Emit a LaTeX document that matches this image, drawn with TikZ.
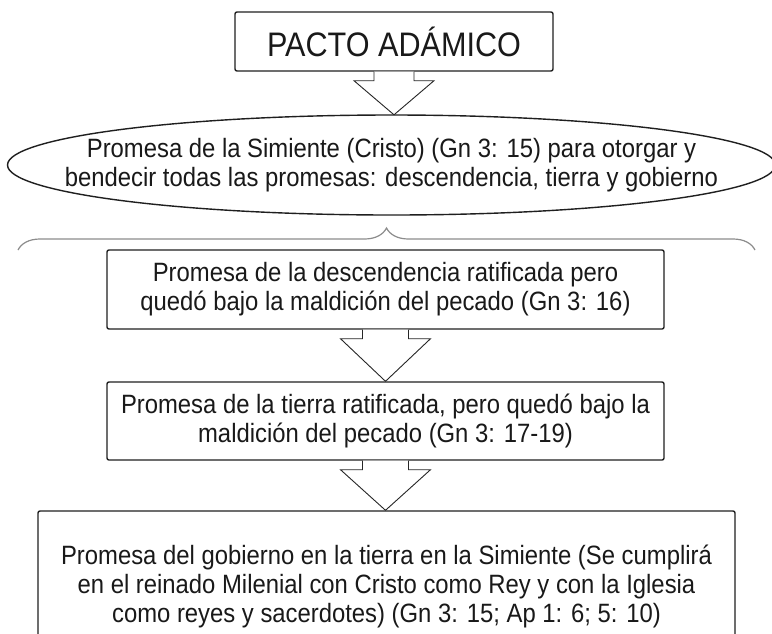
\documentclass[tikz,border=0pt]{standalone}
\usepackage{fontspec}
\setmainfont{Liberation Sans}
\newfontfamily\bodyfont{Liberation Sans}[FakeStretch=0.9]
\usetikzlibrary{shapes.geometric,calc,decorations.pathreplacing}
\tikzset{
  boxnode/.style={draw=black!88, line width=1.4pt, rounded corners=2pt, align=center,
    inner sep=0pt, text=black!90, font=\bodyfont\fontsize{26.5}{29}\selectfont},
  txtnode/.style={align=center, inner sep=0pt, text=black!90, font=\bodyfont\fontsize{26.5}{29}\selectfont},
  blockarrow/.style={draw=black!85, line width=0.9pt, fill=white, line join=miter},
  bracestyle/.style={draw=black!45, line width=1.2pt, decorate,
    decoration={brace, amplitude=22pt}}
}
\newcommand\myblockarrow[4]{%
  \draw[blockarrow] let \p1=(#1.south), \p2=(#2.north) in
    ({\x1-#3},\y1) -- ({\x1-#3},{\y1-9pt}) -- ({\x1-#4},{\y1-9pt}) -- (\x1,\y2)
    -- ({\x1+#4},{\y1-9pt}) -- ({\x1+#3},{\y1-9pt}) -- ({\x1+#3},\y1);
}
\begin{document}
\begin{tikzpicture}[x=1pt,y=-1pt]
\useasboundingbox (0,0) rectangle (772,633);
\clip (0,0) rectangle (772,633);
\fill[white] (0,0) rectangle (772,633);

\node[boxnode, minimum width=318pt, minimum height=59pt,
  font=\bodyfont\fontsize{34}{38}\selectfont] (title) at (394,41.5) {PACTO ADÁMICO};

\node[ellipse, minimum width=768pt, minimum height=100pt, inner sep=0pt] (ell) at (391.5,165) {};
\draw[black!88, line width=1.4pt] (ell.center) ellipse [x radius=384pt, y radius=50pt];
\node[txtnode] (elltext) at (ell.center) {Promesa de la Simiente (Cristo) (Gn 3: 15) para otorgar y\\
bendecir todas las promesas: descendencia, tierra y gobierno};

\coordinate (bl) at (18,250);
\coordinate (br) at (755,250);
\draw[bracestyle] (bl) -- (br);

\node[boxnode, minimum width=557pt, minimum height=79pt] (desc) at (385.5,289.5)
  {Promesa de la descendencia ratificada pero\\
   quedó bajo la maldición del pecado (Gn 3: 16)};

\node[boxnode, minimum width=557pt, minimum height=78pt] (tierra) at (385.5,421)
  {Promesa de la tierra ratificada, pero quedó bajo la\\
   maldición del pecado (Gn 3: 17-19)};

\node[boxnode, minimum width=697pt, minimum height=150pt] (gob) at (386.5,586)
  {Promesa del gobierno en la tierra en la Simiente (Se cumplirá\\
   en el reinado Milenial con Cristo como Rey y con la Iglesia\\
   como reyes y sacerdotes) (Gn 3: 15; Ap 1: 6; 5: 10)};

\myblockarrow{title}{ell}{20pt}{40pt}
\myblockarrow{desc}{tierra}{23pt}{45pt}
\myblockarrow{tierra}{gob}{23pt}{45pt}
\end{tikzpicture}
\end{document}
